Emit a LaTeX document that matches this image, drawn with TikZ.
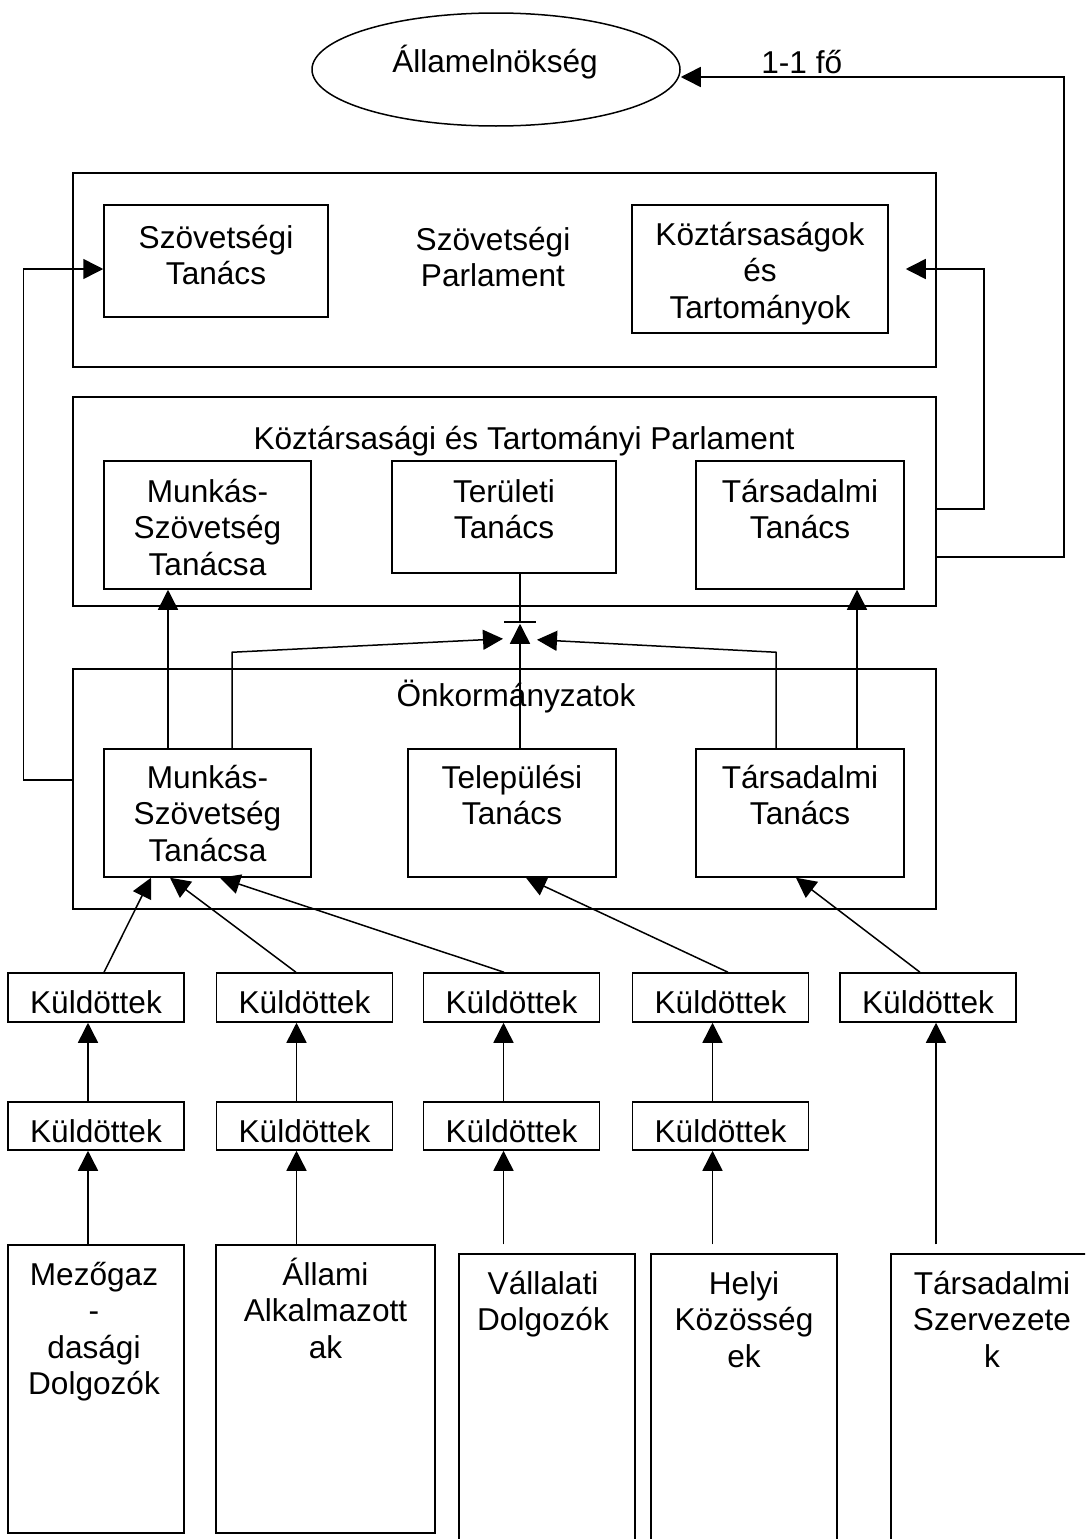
\documentclass[tikz,border=0pt]{standalone}
\usepackage{fontspec}
\setmainfont{Liberation Sans}
\usetikzlibrary{shapes.geometric,arrows.meta}
\newcommand{\fstrut}{\rule{0pt}{30pt}}

\begin{document}
\begin{tikzpicture}[x=1pt, y=-1pt, line width=1.5pt,
			box/.style={rectangle, draw, inner sep=0pt},
			cbox/.style={box, minimum width=863pt},
			ibox/.style={box, minimum width=208pt, minimum height=128pt},
			kbox/.style={box, minimum width=176pt, minimum height=49pt},
			lab/.style={font=\fontsize{31.6}{36.5}\selectfont, align=center, inner sep=0pt},
			arr/.style={-{Triangle[length=20pt,width=20pt]}}
				]
			\def\pad{10pt}
			\useasboundingbox (0,0) rectangle (1085,1539);
			\clip (0,0) rectangle (1085,1539);

			%Allamelnokseg
			\node[draw, ellipse, inner sep=0pt, minimum width=368pt, minimum height=113pt] (pres) at (496,69.5) {};
			\node[lab, anchor=base] at ([xshift=-1pt,yshift=-2.5pt]pres.center) {Államelnökség};

			%Szovetsegi Parlament
			\node[cbox, minimum height=194pt] (parlfed) at (504.5,270) {};
			\node[box, minimum width=224pt, minimum height=112pt] (szt) at (216,261) {};
			\node[box, minimum width=256pt, minimum height=128pt] (ktt) at (760,269) {};
			\node[lab, below] at ([yshift=-13pt]szt.north) {\fstrut Szövetségi\\Tanács};
			\node[lab, below] at ([yshift=-\pad]ktt.north) {\fstrut Köztársaságok\\és\\Tartományok};
			\node[lab, below] at ([xshift=-11.5pt,yshift=-47pt]parlfed.north) {\fstrut Szövetségi\\Parlament};

			%Koztarsasagi es Tartomanyi Parlament
			\node[cbox, minimum height=209pt] (parlrep) at (504.5,501.5) {};
			\node[lab, anchor=base] at ([xshift=19.5pt,yshift=-53pt]parlrep.north) {Köztársasági és Tartományi Parlament};
			\node[ibox, minimum width=207pt] (msz1) at (207.5,525) {};
			\node[box, minimum width=224pt, minimum height=112pt] (ter) at (504,517) {};
			\node[ibox] (tars1) at (800,525) {};
			\node[lab, below] at ([yshift=-11pt]msz1.north) {\fstrut Munkás-\\Szövetség\\Tanácsa};
			\node[lab, below] at ([yshift=-11pt]ter.north) {\fstrut Területi\\Tanács};
			\node[lab, below] at ([yshift=-11pt]tars1.north) {\fstrut Társadalmi\\Tanács};

			%Onkormanyzatok
			\node[cbox, minimum height=240pt] (onk) at (504.5,789) {};
			\node[lab, anchor=base] at ([xshift=11.5pt,yshift=-38pt]onk.north) {Önkormányzatok};
			\node[ibox, minimum width=207pt] (msz2) at (207.5,813) {};
			\node[ibox] (tel) at (512,813) {};
			\node[ibox] (tars2) at (800,813) {};
			\node[lab, below] at ([yshift=-9pt]msz2.north) {\fstrut Munkás-\\Szövetség\\Tanácsa};
			\node[lab, below] at ([yshift=-9pt]tel.north) {\fstrut Települési\\Tanács};
			\node[lab, below] at ([yshift=-9pt]tars2.north) {\fstrut Társadalmi\\Tanács};

			%Kuldottek
			\foreach \n/\x in {a/96,b/304.5,c/511.5,d/720.5,e/928} {
				\node[kbox] (k1\n) at (\x,997.5) {};
				\node[lab, below] at ([yshift=-\pad]k1\n.north) {\fstrut Küldöttek};
			}
			\foreach \n/\x in {a/96,b/304.5,c/511.5,d/720.5} {
				\node[kbox, minimum height=48pt] (k2\n) at (\x,1126) {};
				\node[lab, below] at ([yshift=-\pad]k2\n.north) {\fstrut Küldöttek};
			}

			%bottom row
			\node[box, minimum width=176pt, minimum height=288pt] (mez) at (96,1389) {};
			\node[box, minimum width=219pt, minimum height=288pt] (allam) at (325.5,1389) {};
			\node[box, minimum width=176pt, minimum height=306pt] (vall) at (547,1407) {};
			\node[box, minimum width=186pt, minimum height=306pt] (helyi) at (744,1407) {};
			\node[box, minimum width=202pt, minimum height=306pt] (tszerv) at (992,1407) {};
			\node[lab, below] at ([xshift=-2pt,yshift=-\pad]mez.north) {\fstrut Mezőgaz\\-\\dasági\\Dolgozók};
			\node[lab, below] at ([yshift=-\pad]allam.north) {\fstrut Állami\\Alkalmazott\\ak};
			\node[lab, below] at ([xshift=-4pt,yshift=-\pad]vall.north) {\fstrut Vállalati\\Dolgozók};
			\node[lab, below] at ([yshift=-\pad]helyi.north) {\fstrut Helyi\\Közösség\\ek};
			\node[lab, below] at ([yshift=-\pad]tszerv.north) {\fstrut Társadalmi\\Szervezete\\k};

			%upwards
			\foreach \n in {a,b,c,d} {
				\draw[arr] ([xshift=-8pt]k2\n.south |- mez.north) -- ([xshift=-8pt]k2\n.south);
				\draw[arr] ([xshift=-8pt]k2\n.north) -- ([xshift=-8pt]k1\n.south);
			}
			\draw[arr] ([xshift=8pt]k1e.south |- mez.north) -- ([xshift=8pt]k1e.south);

			\draw[arr] ([xshift=8pt]k1a.north) -- ([xshift=-56.5pt]msz2.south);
			\draw[arr] ([xshift=-8.5pt]k1b.north) -- ([xshift=-37.5pt]msz2.south);
			\draw[arr] ([xshift=-7.5pt]k1c.north) -- ([xshift=12.5pt]msz2.south);
			\draw[arr] ([xshift=7.5pt]k1d.north) -- ([xshift=14pt]tel.south);
			\draw[arr] ([xshift=-8pt]k1e.north) -- ([xshift=-4pt]tars2.south);

			\draw[arr] ([xshift=-39.5pt]msz2.north) -- ([xshift=-39.5pt]msz1.south);
			\draw[arr] ([xshift=57pt]tars2.north) -- ([xshift=57pt]tars1.south);

			%junction under Teruleti Tanacs
			\coordinate (tk) at ([xshift=16pt,yshift=-48pt]ter.south);
			\draw (ter.south -| tk) -- (tk);
			\draw ([xshift=-16pt]tk) -- ([xshift=16pt]tk);
			\draw[arr] (tel.north -| tk) -- ([yshift=-2pt]tk);
			\draw[arr] ([xshift=24.5pt]msz2.north) -- ++(0,-96) -- ([xshift=-17pt,yshift=-17pt]tk);
			\draw[arr] ([xshift=-24pt]tars2.north) -- ++(0,-96) -- ([xshift=17pt,yshift=-18pt]tk);

			%side loops
			\draw[arr] ([yshift=9pt]onk.west) -- ++(-49,0) |- ([yshift=-8pt]szt.west);
			\draw[arr] ([yshift=-7.5pt]parlrep.east) -- ++(47,0) |- ([xshift=17pt]ktt.east);
			\draw[arr] ([yshift=-55.5pt]parlrep.east) -- ++(127,0) |- node[lab, above=2pt, pos=0.842] {1-1 fő} ([yshift=-7.5pt]pres.east);
	\end{tikzpicture}
\end{document}
